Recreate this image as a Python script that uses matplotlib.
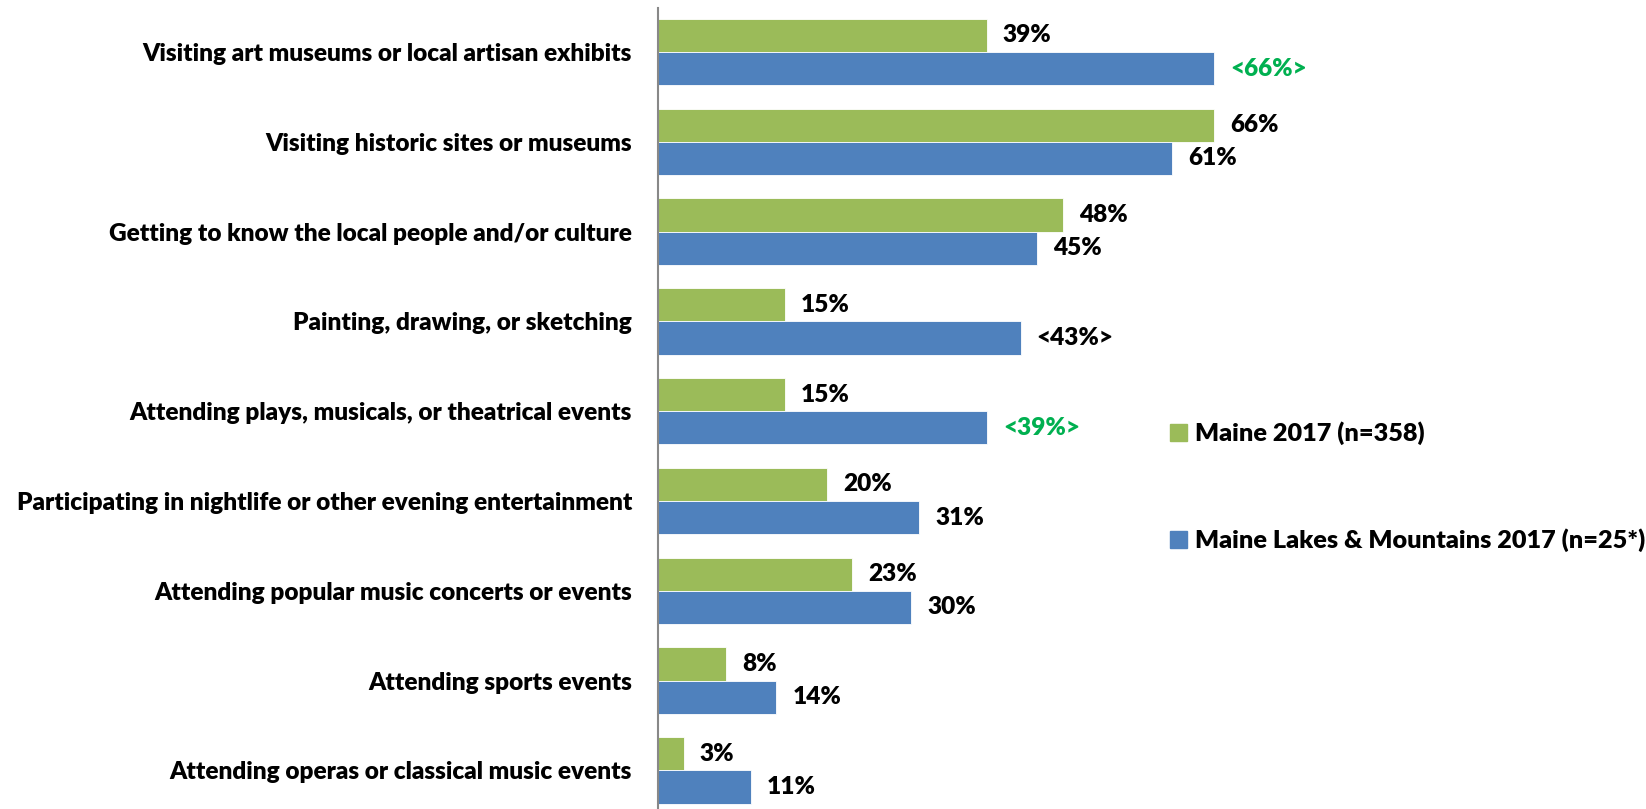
import matplotlib.pyplot as plt
from matplotlib.patches import Patch

categories = [
    'Visiting art museums or local artisan exhibits',
    'Visiting historic sites or museums',
    'Getting to know the local people and/or culture',
    'Painting, drawing, or sketching',
    'Attending plays, musicals, or theatrical events',
    'Participating in nightlife or other evening entertainment',
    'Attending popular music concerts or events',
    'Attending sports events',
    'Attending operas or classical music events',
]
maine = [39, 66, 48, 15, 15, 20, 23, 8, 3]
lakes = [66, 61, 45, 43, 39, 31, 30, 14, 11]
# labels on the regional series that are flagged as significant differences
lakes_text = ['<66%>', '61%', '45%', '<43%>', '<39%>', '31%', '30%', '14%', '11%']
lakes_text_color = ['#00B050', 'black', 'black', 'black', '#00B050',
                    'black', 'black', 'black', 'black']
series_names = ['Maine 2017 (n=358)', 'Maine Lakes & Mountains 2017 (n=25*)']

green = '#9BBB59'
blue = '#4F81BD'
font = 'Lato'
fw = 'heavy'
fs = 17.6

fig = plt.figure(figsize=(16.46, 8.09), dpi=100)
ax = fig.add_axes([0.4, 0.0, 0.5116, 0.99])

h = 0.37
ys = list(range(len(categories)))
ax.barh([y - h / 2 for y in ys], maine, height=h, color=green, edgecolor='white', linewidth=0.6)
ax.barh([y + h / 2 for y in ys], lakes, height=h, color=blue, edgecolor='white', linewidth=0.6)

off = 1.9  # gap between bar end and its label, in percent units
for y, v in zip(ys, maine):
    ax.text(v + off, y - h / 2, f'{v}%', va='center', ha='left',
            fontsize=fs, fontweight=fw, family=font, color='black')
for y, v, t, c in zip(ys, lakes, lakes_text, lakes_text_color):
    ax.text(v + off, y + h / 2, t, va='center', ha='left',
            fontsize=fs, fontweight=fw, family=font, color=c)

ax.set_xlim(0, 100)
ax.set_ylim(8.43, -0.49)
ax.set_yticks(ys)
ax.set_yticklabels(categories, fontsize=fs, fontweight=fw, family=font)
ax.tick_params(axis='y', length=0, pad=19)
ax.set_xticks([])
for s in ['top', 'right', 'bottom']:
    ax.spines[s].set_visible(False)
ax.spines['left'].set_color('#888888')
ax.spines['left'].set_linewidth(1.5)

handles = [Patch(color=green), Patch(color=blue)]
fig.legend(handles, series_names, loc='center left', bbox_to_anchor=(0.6967, 0.398),
           frameon=False, handlelength=0.7, handleheight=0.7, handletextpad=0.3,
           labelspacing=3.3, prop={'family': font, 'weight': fw, 'size': 18.2})

fig.savefig('out.png', dpi=100)
